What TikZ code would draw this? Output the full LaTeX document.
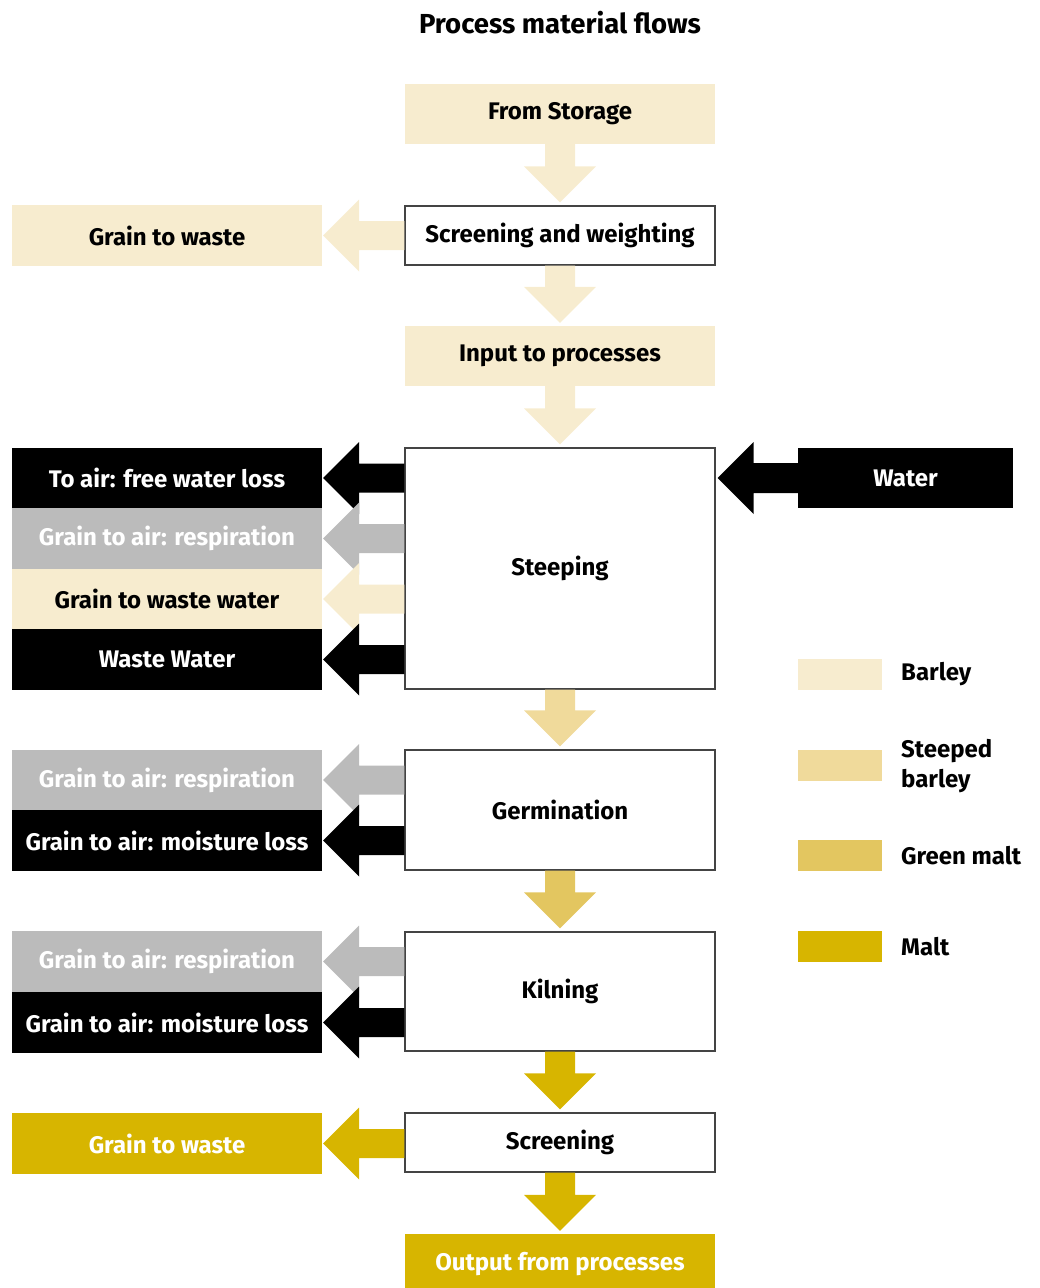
\documentclass[tikz,border=0pt]{standalone}
\usepackage{fontspec}
\setmainfont{Fira Sans}
\usetikzlibrary{calc}
\definecolor{barley}{HTML}{F7ECCF}
\definecolor{steeped}{HTML}{F0DA9B}
\definecolor{greenmalt}{HTML}{E3C660}
\definecolor{malt}{HTML}{D7B500}
\definecolor{greyc}{HTML}{BBBBBB}
\definecolor{edge}{HTML}{444444}
\newcommand\dnarrow[3]{\fill[#3] ($(#1.south)+(-15,0)$) -- ($(#2.north)+(-15,-39)$) -- ($(#2.north)+(-36,-39)$) -- ($(#2.north)+(0,-3)$) -- ($(#2.north)+(36,-39)$) -- ($(#2.north)+(15,-39)$) -- ($(#1.south)+(15,0)$) -- cycle;}
\newcommand\lfarrow[3]{\fill[#3] ($(#2.west |- #1.east)+(0,-14.5)$) -- ($(#1.east)+(37,-14.5)$) -- ($(#1.east)+(37,-36)$) -- ($(#1.east)+(1,0)$) -- ($(#1.east)+(37,36)$) -- ($(#1.east)+(37,14.5)$) -- ($(#2.west |- #1.east)+(0,14.5)$) -- cycle;}
\begin{document}
\begin{tikzpicture}[x=1pt,y=-1pt,
  txt/.style={font=\fontsize{24}{28}\selectfont\bfseries},
  mainbox/.style={txt,draw=edge,line width=1.4pt,fill=white,minimum width=310,inner sep=0},
  flowbox/.style={txt,minimum width=310,minimum height=60.5,inner sep=0},
  legbox/.style={minimum width=84,minimum height=31,inner sep=0},
  legtxt/.style={txt,anchor=west,align=left,inner sep=0}]
\useasboundingbox (0,0) rectangle (1039,1288);
\node[font=\fontsize{27.5}{32}\selectfont\bfseries] (title) at (560,23) {Process material flows};
% main column
\node[flowbox,fill=barley,minimum height=60] (store) at (560,114) {From Storage};
\node[mainbox,minimum height=59] (sw) at (560,235.5) {Screening and weighting};
\node[flowbox,fill=barley,minimum height=60] (input) at (560,356) {Input to processes};
\node[mainbox,minimum height=241] (steep) at (560,568.5) {Steeping};
\node[mainbox,minimum height=120] (germ) at (560,810) {Germination};
\node[mainbox,minimum height=119] (kiln) at (560,991.5) {Kilning};
\node[mainbox,minimum height=59] (scr) at (560,1142.5) {Screening};
\node[flowbox,fill=malt,text=white,minimum height=60] (out) at (560,1264) {Output from processes};
% left column
\node[flowbox,fill=barley] (gw1) at (167,235.5) {Grain to waste};
\node[flowbox,fill=black,text=white] (fwl) at (167,478) {To air: free water loss};
\node[flowbox,fill=greyc,text=white] (resp1) at (167,538.5) {Grain to air: respiration};
\node[flowbox,fill=barley] (gww) at (167,599) {Grain to waste water};
\node[flowbox,fill=black,text=white] (ww) at (167,659.5) {Waste Water};
\node[flowbox,fill=greyc,text=white] (resp2) at (167,780) {Grain to air: respiration};
\node[flowbox,fill=black,text=white] (ml1) at (167,840.5) {Grain to air: moisture loss};
\node[flowbox,fill=greyc,text=white] (resp3) at (167,961.5) {Grain to air: respiration};
\node[flowbox,fill=black,text=white] (ml2) at (167,1022.5) {Grain to air: moisture loss};
\node[flowbox,fill=malt,text=white] (gw2) at (167,1143.5) {Grain to waste};
% water
\node[flowbox,fill=black,text=white,minimum width=215,minimum height=60] (water) at (905.5,478) {Water};
% down arrows
\dnarrow{store}{sw}{barley}
\dnarrow{sw}{input}{barley}
\dnarrow{input}{steep}{barley}
\dnarrow{steep}{germ}{steeped}
\dnarrow{germ}{kiln}{greenmalt}
\dnarrow{kiln}{scr}{malt}
\dnarrow{scr}{out}{malt}
% left arrows
\lfarrow{gw1}{sw}{barley}
\lfarrow{fwl}{steep}{black}
\lfarrow{resp1}{steep}{greyc}
\lfarrow{gww}{steep}{barley}
\lfarrow{ww}{steep}{black}
\lfarrow{resp2}{germ}{greyc}
\lfarrow{ml1}{germ}{black}
\lfarrow{resp3}{kiln}{greyc}
\lfarrow{ml2}{kiln}{black}
\lfarrow{gw2}{scr}{malt}
% water arrow
\fill[black] ($(water.west)+(0,-15)$) -- ($(steep.east |- water.west)+(38,-15)$) -- ($(steep.east |- water.west)+(38,-36)$) -- ($(steep.east |- water.west)+(2,0)$) -- ($(steep.east |- water.west)+(38,36)$) -- ($(steep.east |- water.west)+(38,15)$) -- ($(water.west)+(0,15)$) -- cycle;
% legend
\node[legbox,fill=barley] (lb1) at (840,674.5) {};
\node[legbox,fill=steeped] (lb2) at (840,765.5) {};
\node[legbox,fill=greenmalt] (lb3) at (840,855.5) {};
\node[legbox,fill=malt] (lb4) at (840,946.5) {};
\node[legtxt] (lt1) at (901,674.5) {Barley};
\node[legtxt,font=\fontsize{24}{30}\selectfont\bfseries] (lt2) at (901,766) {Steeped\\barley};
\node[legtxt] (lt3) at (901,855.5) {Green malt};
\node[legtxt] (lt4) at (901,946.5) {Malt};
\end{tikzpicture}
\end{document}
